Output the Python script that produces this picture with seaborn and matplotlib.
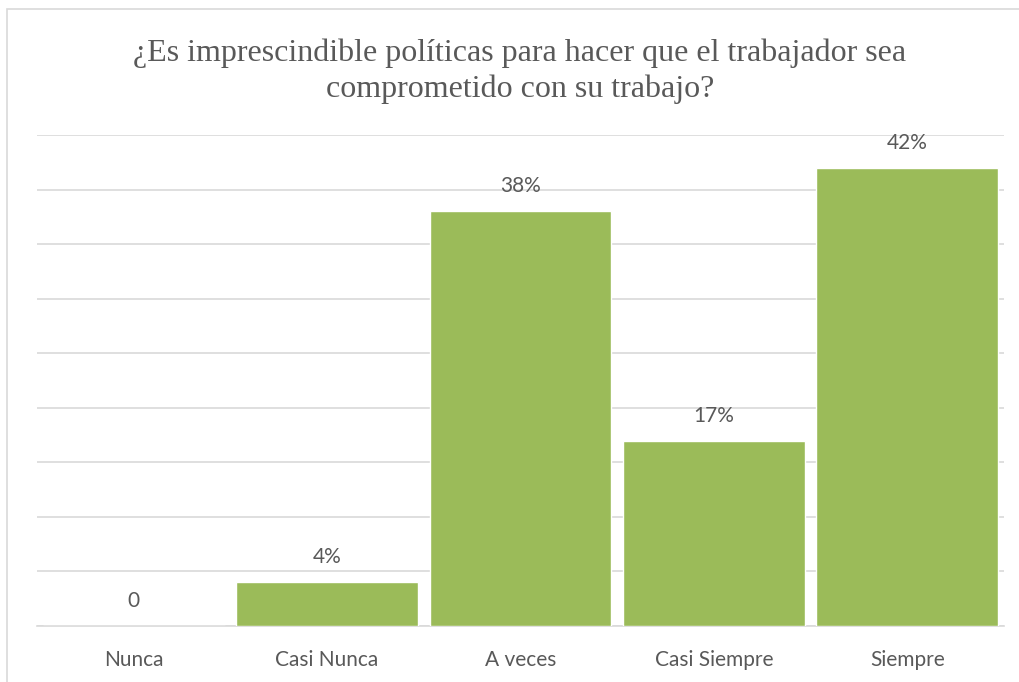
import matplotlib
matplotlib.use("Agg")
import matplotlib.pyplot as plt
import seaborn as sns
import pandas as pd
from matplotlib.patches import Rectangle

categories = ["Nunca", "Casi Nunca", "A veces", "Casi Siempre", "Siempre"]
values = [0, 4, 38, 17, 42]
value_labels = ["0", "4%", "38%", "17%", "42%"]
title = "¿Es imprescindible políticas para hacer que el trabajador sea\ncomprometido con su trabajo?"

sns.set_theme(style="white")
plt.rcParams["font.family"] = ["Lato", "DejaVu Sans"]

text_color = "#595959"
bar_color = "#9BBB59"
grid_color = "#D9D9D9"

df = pd.DataFrame({"categoria": categories, "valor": values})

fig = plt.figure(figsize=(10.19, 6.82), dpi=100)
ax = fig.add_axes([37 / 1019, 1 - 626 / 682, (1004 - 37) / 1019, (626 - 135) / 682])

sns.barplot(data=df, x="categoria", y="valor", color=bar_color, saturation=1,
            width=0.94, ax=ax, zorder=3)

ax.set_ylim(0, 45)
ax.set_xlim(-0.5, len(categories) - 0.5)
ax.set_yticks(range(0, 46, 5))
ax.yaxis.grid(True, color=grid_color, linewidth=1.2, zorder=0)
ax.xaxis.grid(False)
ax.tick_params(axis="y", left=False, labelleft=False)
ax.tick_params(axis="x", bottom=False, labelsize=15, labelcolor=text_color, pad=11)
for s in ["top", "right", "left"]:
    ax.spines[s].set_visible(False)
ax.spines["bottom"].set_color(grid_color)
ax.spines["bottom"].set_linewidth(1.2)
ax.set_xlabel("")
ax.set_ylabel("")

for i, (v, lab) in enumerate(zip(values, value_labels)):
    ax.annotate(lab, xy=(i, v), xytext=(0, 18), textcoords="offset points",
                ha="center", va="center", fontsize=15, color=text_color)

fig.text(520 / 1019, 1 - 71 / 682, title, ha="center", va="center",
         fontsize=23, color=text_color, family=["Liberation Serif", "DejaVu Serif"],
         linespacing=1.27)

# light frame around the chart area
fig.patches.append(Rectangle((7 / 1019, -0.05), 1.1, 1 - 9 / 682 + 0.05,
                             transform=fig.transFigure, fill=False,
                             edgecolor=grid_color, linewidth=1.2))

fig.savefig("out.png", dpi=100, facecolor="white")
